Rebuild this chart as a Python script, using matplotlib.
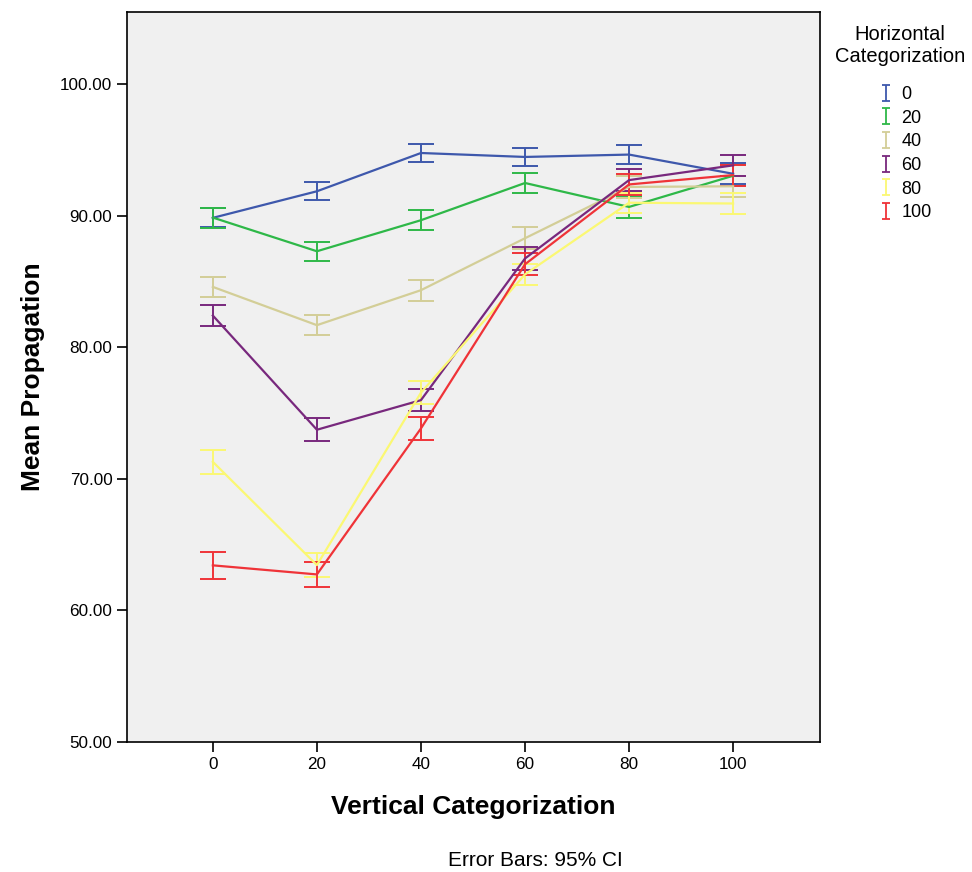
import matplotlib
matplotlib.use("Agg")
import matplotlib.pyplot as plt
from matplotlib.path import Path
from matplotlib.lines import Line2D
from matplotlib.ticker import FormatStrFormatter

plt.rcParams['font.family'] = ['Liberation Sans', 'DejaVu Sans']

vertical = [0, 20, 40, 60, 80, 100]
groups = ['0', '20', '40', '60', '80', '100']
colors = ['#3E58AC', '#2EB848', '#D3CE97', '#78287D', '#FBF873', '#EF3338']

mean_h0 = [89.85, 91.87, 94.78, 94.48, 94.66, 93.2]
ci_h0 = [0.72, 0.70, 0.70, 0.70, 0.73, 0.80]
mean_h20 = [89.87, 87.31, 89.67, 92.50, 90.68, 93.05]
ci_h20 = [0.76, 0.71, 0.76, 0.78, 0.84, 0.80]
mean_h40 = [84.60, 81.69, 84.35, 88.30, 92.20, 92.25]
ci_h40 = [0.76, 0.76, 0.80, 0.85, 0.84, 0.80]
mean_h60 = [82.42, 73.74, 75.99, 86.76, 92.72, 93.84]
ci_h60 = [0.82, 0.87, 0.85, 0.84, 0.82, 0.78]
mean_h80 = [71.30, 63.45, 76.56, 85.55, 91.00, 90.94]
ci_h80 = [0.89, 0.92, 0.90, 0.82, 0.77, 0.81]
mean_h100 = [63.43, 62.74, 73.84, 86.32, 92.39, 93.10]
ci_h100 = [1.00, 0.96, 0.89, 0.82, 0.77, 0.80]

means = [mean_h0, mean_h20, mean_h40, mean_h60, mean_h80, mean_h100]
cis = [ci_h0, ci_h20, ci_h40, ci_h60, ci_h80, ci_h100]

fig = plt.figure(figsize=(9.72, 8.72), dpi=100)
ax = fig.add_axes([127/972, 1-742/872, (820-127)/972, (742-12)/872])
ax.set_facecolor('#F0F0F0')

for m, c, col in zip(means, cis, colors):
    ax.errorbar(vertical, m, yerr=c, color=col, lw=1.6, elinewidth=1.4,
                capsize=9.5, capthick=1.4)

ax.set_xlim(-16.5, 116.7)
ax.set_ylim(50, 105.5)
ax.set_xticks(vertical)
ax.set_yticks([50, 60, 70, 80, 90, 100])
ax.yaxis.set_major_formatter(FormatStrFormatter('%.2f'))
ax.tick_params(axis='both', direction='out', length=7.5, width=1.2, labelsize=12.3, colors='black')
ax.tick_params(axis='x', pad=3)
ax.tick_params(axis='y', pad=3)
for s in ax.spines.values():
    s.set_linewidth(1.2)
    s.set_color('black')

ax.set_xlabel('Vertical Categorization', fontsize=19, fontweight='bold')
ax.set_ylabel('Mean Propagation', fontsize=19, fontweight='bold')
ax.xaxis.set_label_coords(0.5, -0.072)
ax.yaxis.set_label_coords(-0.119, 0.5)

fig.text(535/972, 1-860/872, 'Error Bars: 95% CI', ha='center', va='center', fontsize=15)

# I-shaped legend marker
ipath = Path([(-0.5, 1), (0.5, 1), (0, 1), (0, -1), (-0.5, -1), (0.5, -1)],
             [Path.MOVETO, Path.LINETO, Path.MOVETO, Path.LINETO, Path.MOVETO, Path.LINETO])
handles = [Line2D([], [], linestyle='none', marker=ipath, markersize=12,
                  markerfacecolor='none', markeredgecolor=col, markeredgewidth=1.3)
           for col in colors]
fig.text(900/972, 1-46/872, 'Horizontal\nCategorization', ha='center', va='center',
         fontsize=14.5, linespacing=1.2)
fig.legend(handles, groups, loc='upper left', bbox_to_anchor=(879/972, 1-86/872),
           frameon=False, fontsize=13, handlelength=0.8, handletextpad=0.45,
           labelspacing=0.37, borderpad=0, borderaxespad=0)

fig.savefig('out.png', dpi=100)
